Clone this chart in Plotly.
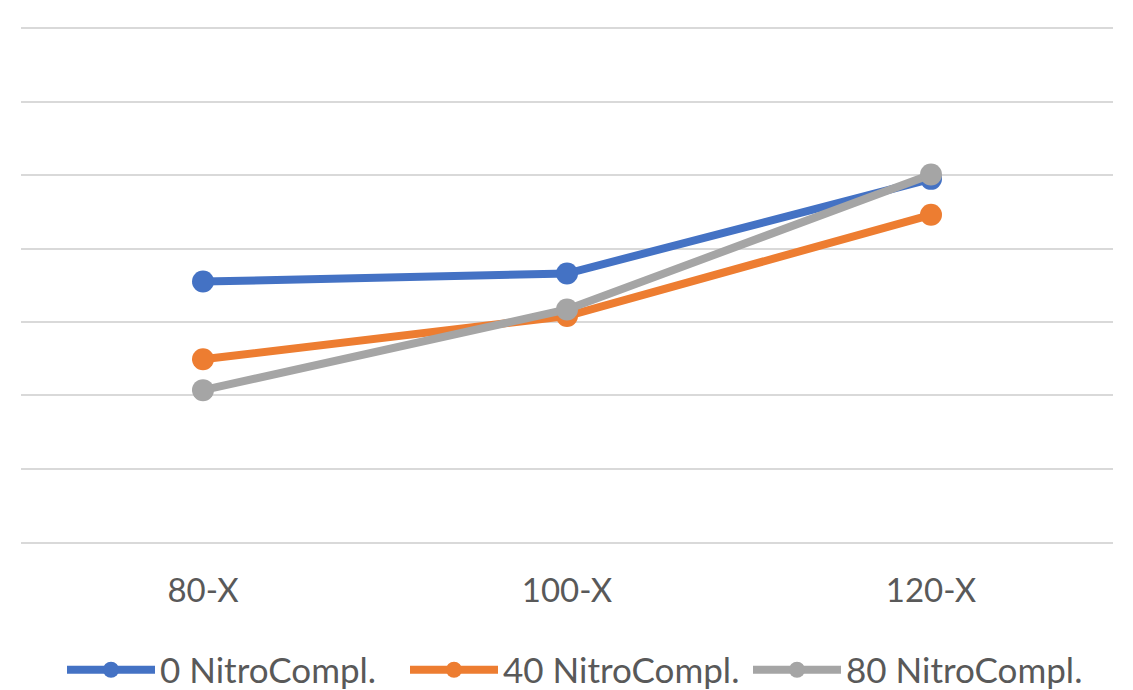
import plotly.graph_objects as go

categories = ["80-X", "100-X", "120-X"]
series_names = ["0 NitroCompl.", "40 NitroCompl.", "80 NitroCompl."]
values_0 = [3.55, 3.66, 4.95]
values_40 = [2.49, 3.08, 4.46]
values_80 = [2.07, 3.17, 5.01]
colors = ["#4472C4", "#ED7D31", "#A5A5A5"]

fig = go.Figure()
for name, vals, col in zip(series_names, [values_0, values_40, values_80], colors):
    fig.add_trace(go.Scatter(
        x=categories, y=vals, name=name, mode="lines+markers",
        line=dict(color=col, width=8),
        marker=dict(color=col, size=22),
    ))

fig.update_layout(
    width=1133, height=690,
    margin=dict(l=21, r=20, t=27, b=148, autoexpand=False),
    paper_bgcolor="white", plot_bgcolor="white",
    font=dict(family="Lato, Open Sans, sans-serif", color="#595959", size=33),
    showlegend=True,
    legend=dict(orientation="h", xref="container", xanchor="left", x=62 / 1133,
                yref="paper", yanchor="middle", y=-0.2485,
                itemwidth=88, entrywidth=240, entrywidthmode="pixels",
                font=dict(size=35, color="#595959")),
    xaxis=dict(type="category", range=[-0.5, 2.5], showgrid=False,
               showline=True, linecolor="#D9D9D9", linewidth=2,
               ticks="", ticklabelstandoff=18,
               tickfont=dict(size=33, color="#595959")),
    yaxis=dict(range=[0, 7.02], tickvals=[1, 2, 3, 4, 5, 6, 7], showgrid=True,
               gridcolor="#D9D9D9", gridwidth=2, showticklabels=False,
               zeroline=False, ticks=""),
)

fig.write_html("out.html", config={"displayModeBar": False},
               post_script="document.body.style.margin='0';document.body.style.padding='0';")
